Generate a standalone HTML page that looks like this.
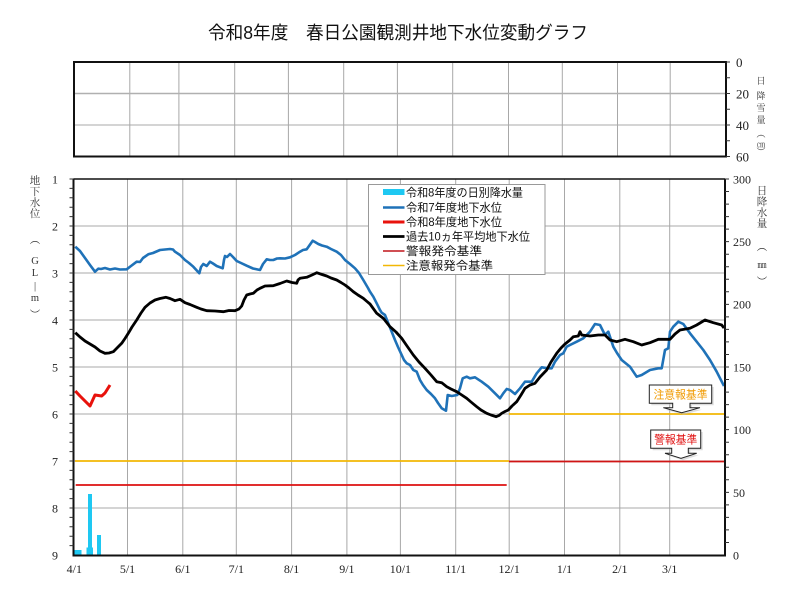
<!DOCTYPE html>
<html><head><meta charset="utf-8"><style>
html,body{margin:0;padding:0;background:#fff;}
svg{display:block;}
.num{font-family:"Liberation Serif","Noto Serif CJK SC",serif;font-size:12px;fill:#222;}
.ttl{font-family:"Liberation Serif","Noto Serif CJK SC",serif;font-size:10.5px;fill:#333;}
.lg{font-family:"Liberation Sans","Noto Sans CJK JP",sans-serif;font-size:11.5px;fill:#111;}
</style></head><body>
<svg width="800" height="601" viewBox="0 0 800 601" xmlns="http://www.w3.org/2000/svg">
<rect width="800" height="601" fill="#fff"/>
<!-- Title -->
<text x="398" y="39" text-anchor="middle" textLength="380" lengthAdjust="spacingAndGlyphs" style="font-family:'Liberation Sans','Noto Sans CJK JP',sans-serif;font-size:18px;fill:#111;">令和8年度　春日公園観測井地下水位変動グラフ</text>

<!-- Top snow box -->
<g stroke="#a8a8a8" stroke-width="1" fill="none">
<path d="M129.8 62V156.5M178.9 62V156.5M234.7 62V156.5M288.4 62V156.5M343.7 62V156.5M397.4 62V156.5M452.7 62V156.5M508.5 62V156.5M562.3 62V156.5M617.5 62V156.5M670.2 62V156.5"/>
<path d="M74 93.5H726" stroke-width="1.6" stroke="#b0b0b0"/>
<path d="M74 125H726"/>
</g>
<rect x="74" y="62" width="652" height="94.5" fill="none" stroke="#111" stroke-width="2"/>
<path d="M726 77.75h4M726 93.5h4M726 109.25h4M726 125h4M726 140.75h4M726 62h4M726 156.5h4" stroke="#333" stroke-width="1"/>
<g class="num" style="font-size:13px">
<text x="736" y="67">0</text>
<text x="736" y="98.5">20</text>
<text x="736" y="130">40</text>
<text x="736" y="161.5">60</text>
</g>
<g class="ttl" style="font-size:9px" text-anchor="middle">
<text x="761" y="84">日</text>
<text x="761" y="99">降</text>
<text x="761" y="111">雪</text>
<text x="761" y="123">量</text>
<text x="761" y="137">︵</text>
<text x="761" y="147" style="font-size:8px">㎝</text>
<text x="761" y="155">︶</text>
</g>

<!-- Main grid -->
<g stroke="#a8a8a8" stroke-width="1" fill="none">
<path d="M127.5 179V555M182.8 179V555M236.3 179V555M291.6 179V555M346.9 179V555M400.4 179V555M455.7 179V555M509.2 179V555M564.5 179V555M619.8 179V555M669.7 179V555"/>
<path d="M73.5 226H725M73.5 273H725M73.5 320H725M73.5 367H725M73.5 414H725M73.5 461H725M73.5 508H725"/>
</g>

<!-- Rain bars -->
<g fill="#1ec8f2">
<rect x="74" y="550" width="7.5" height="6"/>
<rect x="86.5" y="547.5" width="6.5" height="8.5"/>
<rect x="88" y="494" width="4" height="62"/>
<rect x="97" y="535" width="4" height="21"/>
</g>

<!-- Reference lines -->
<path d="M75 461H509" stroke="#f2b705" stroke-width="1.8"/>
<path d="M75.7 485H506.7" stroke="#dd1111" stroke-width="1.8"/>
<path d="M509 414H725" stroke="#f2b705" stroke-width="1.8"/>
<path d="M509 461.5H725" stroke="#d01515" stroke-width="1.8"/>

<!-- Blue R7 -->
<polyline fill="none" stroke="#1f72b8" stroke-width="2.6" stroke-linejoin="round" points="75.3,246.7 80,251 85,258 90,265 95,271.7 98.3,268.7 101,269 105,268 110,269.5 115,268.5 120,269.5 126.7,269.3 131,266 136.7,261.7 140,262 143,258 148.3,254.3 153,253 160,250 165,249.5 170,249 173,249.5 175,251.7 180,255 185,260 189,263 193.3,266.7 199.3,273.3 201,267 203.3,264 206.7,266 210,261.7 213,263.5 216.7,266 222.7,268.3 224,260 225,256 227,257 230,254 233,257 236.7,261 241,263 246.7,265.7 253,268.5 260,270 263,264 266.7,259.3 270,260 273.3,260 277,258.5 280,258.3 285,258.5 290,257.3 295,255 300,251.7 303,250 306.7,249.3 309,246 312.7,240.7 315,242 318.3,244 322,245.5 326.7,246.7 331,249 336.7,251.7 341,255 345,260 350,264 355,268.3 359,273 363.3,280 368,288 370,291.7 373.3,296.7 376.7,303.3 380,310 381.7,312.7 385,315 388.3,323.3 391,330 395,340 398,347 401.7,355 404,360 406.7,363.3 410,365 413.3,370 416.7,371.7 420,380 423,385 426.7,390 431,394 435,398.3 438,403 441.7,408.3 446,410.7 447.7,395 451.7,396 457.3,395 460,388.3 462.7,378.3 466.7,376.7 470,378.3 475,377.3 481.7,381.7 488.3,386.7 495,393.3 500,398.3 503.3,393.3 506.7,389 510,390 515,394 520,388.3 525,381.7 531.7,381.7 536.7,373.3 541.7,367.3 548.3,368.3 551.7,368.3 555,361.7 560,355 563.3,353.3 566.7,346.7 570,345 576.7,341.7 583.3,338.3 590,331.7 595,324 600,325 605,335 608.3,331.7 613.3,346.7 617,353 621.7,360 630,366.7 636.7,376.7 641.7,375 650,370 658.3,368.3 661.7,368.3 665,350 668.3,348.3 670,331.7 673.3,326.7 678.3,321.7 683.3,324 690,333.3 696.7,341.7 703.3,350 710,360 716.7,371.7 724,386"/>

<!-- Black 10yr avg -->
<polyline fill="none" stroke="#000" stroke-width="2.8" stroke-linejoin="round" points="75.3,332.7 80,337 85,341 90,344 95,347 100,351 105,353.3 109,353 113.3,351.7 117,348 121.7,343.3 125,338.5 128.3,333.3 132,327 136.7,320 141,313 145,307.3 150,303 155,300 160,298.5 166,297.3 170,298.5 175,300.7 180,299.3 185,302.7 190,304.5 196.7,307.3 201,309 206.7,310.7 215,311 223.3,311.7 229,310.5 235,310.7 239,309 241.7,306 244,300 246.7,295 250,294 253.3,293.3 257,290 260,288.3 265,286 273.3,285.7 280,283.5 286.7,281 292,282.5 296.7,283.3 298,280 300,278.3 306.7,277.3 312,275 316.7,272.7 322,274.5 326.7,276 331,278 336.7,280 341,282.5 345,285 349,288 353.3,291.7 358,295 363.3,298.3 367,301.5 370,304 376.7,313.3 383.3,318.3 390,326.7 396,332 401.7,338.3 407,346 413.3,355 419,362 425,368.3 431,375 436.7,381.7 441.7,382.7 446.7,386.7 451,389 456.7,391.7 461,394.5 466.7,398.3 471,402 476.7,406.7 481,410 486.7,413.3 491,415 496,416.7 499,415.5 501.7,413.3 505,411.5 508.3,410 512,406 516.7,401.7 521,395 525,388.3 530,385 535,383.3 540,377 546.7,370 551,362 556.7,353.3 561,348 565,344 570,340 573.3,336.7 578.3,336 580,331.7 581.7,335 590,336 598.3,335 605,335 610,340 616.7,341.7 625,339.3 633.3,341.7 641.7,345 650,342.7 658.3,339.3 670,339.3 675,334 680,330 690,328.3 696.7,325 705,320 713.3,322.7 721.7,325 724,328"/>

<!-- Red R8 -->
<polyline fill="none" stroke="#e8120c" stroke-width="3" stroke-linejoin="round" points="75.3,391 80,396 85,401 90,406 95,395 101.7,396 105,393 110,385"/>

<!-- Main frame -->
<path d="M73.5 179H725" stroke="#111" stroke-width="1.5"/>
<path d="M73.5 179V556M725 179V556M72.5 555.5H726" stroke="#111" stroke-width="2" fill="none"/>

<!-- Left ticks -->
<path stroke="#333" stroke-width="1" d="M69.5 179h4M69.5 188.4h4M69.5 197.8h4M69.5 207.2h4M69.5 216.6h4M69.5 226h4M69.5 235.4h4M69.5 244.8h4M69.5 254.2h4M69.5 263.6h4M69.5 273h4M69.5 282.4h4M69.5 291.8h4M69.5 301.2h4M69.5 310.6h4M69.5 320h4M69.5 329.4h4M69.5 338.8h4M69.5 348.2h4M69.5 357.6h4M69.5 367h4M69.5 376.4h4M69.5 385.8h4M69.5 395.2h4M69.5 404.6h4M69.5 414h4M69.5 423.4h4M69.5 432.8h4M69.5 442.2h4M69.5 451.6h4M69.5 461h4M69.5 470.4h4M69.5 479.8h4M69.5 489.2h4M69.5 498.6h4M69.5 508h4M69.5 517.4h4M69.5 526.8h4M69.5 536.2h4M69.5 545.6h4"/>
<!-- Right ticks -->
<path stroke="#333" stroke-width="1" d="M725 542.47h4M725 529.93h4M725 517.4h4M725 504.87h4M725 492.33h4M725 479.8h4M725 467.27h4M725 454.73h4M725 442.2h4M725 429.67h4M725 417.13h4M725 404.6h4M725 392.07h4M725 379.53h4M725 367h4M725 354.47h4M725 341.93h4M725 329.4h4M725 316.87h4M725 304.33h4M725 291.8h4M725 279.27h4M725 266.73h4M725 254.2h4M725 241.67h4M725 229.13h4M725 216.6h4M725 204.07h4M725 191.53h4M725 179h4"/>

<!-- Left labels -->
<g class="num" text-anchor="middle">
<text x="55" y="183.5">1</text>
<text x="55" y="230.5">2</text>
<text x="55" y="277.5">3</text>
<text x="55" y="324.5">4</text>
<text x="55" y="371.5">5</text>
<text x="55" y="418.5">6</text>
<text x="55" y="465.5">7</text>
<text x="55" y="512.5">8</text>
<text x="55" y="559.5">9</text>
</g>
<!-- Right labels -->
<g class="num">
<text x="733" y="183.5">300</text>
<text x="733" y="246">250</text>
<text x="733" y="308.5">200</text>
<text x="733" y="371.5">150</text>
<text x="733" y="434">100</text>
<text x="733" y="497">50</text>
<text x="733" y="559.5">0</text>
</g>
<!-- X labels -->
<g class="num" text-anchor="middle">
<text x="74.3" y="573">4/1</text>
<text x="127.5" y="573">5/1</text>
<text x="182.8" y="573">6/1</text>
<text x="236.3" y="573">7/1</text>
<text x="291.6" y="573">8/1</text>
<text x="346.9" y="573">9/1</text>
<text x="400.4" y="573">10/1</text>
<text x="455.7" y="573">11/1</text>
<text x="509.2" y="573">12/1</text>
<text x="564.5" y="573">1/1</text>
<text x="619.8" y="573">2/1</text>
<text x="669.7" y="573">3/1</text>
</g>

<!-- Left axis title -->
<g class="ttl" text-anchor="middle">
<text x="35" y="184">地</text>
<text x="35" y="195">下</text>
<text x="35" y="206">水</text>
<text x="35" y="217">位</text>
<text x="35" y="243">︵</text>
<text x="35" y="264">G</text>
<text x="35" y="276">L</text>
<text x="35" y="289">|</text>
<text x="35" y="301">m</text>
<text x="35" y="318">︶</text>
</g>
<!-- Right axis title -->
<g class="ttl" text-anchor="middle">
<text x="762" y="194">日</text>
<text x="762" y="205">降</text>
<text x="762" y="216">水</text>
<text x="762" y="227">量</text>
<text x="762" y="250">︵</text>
<text x="762" y="268" style="font-size:9px">㎜</text>
<text x="762" y="285">︶</text>
</g>

<!-- Legend -->
<rect x="368.5" y="184.5" width="176.5" height="90" fill="#fff" stroke="#999" stroke-width="1"/>
<rect x="383" y="189" width="21.5" height="6" fill="#1ec8f2"/>
<path d="M383 207.5H404.5" stroke="#1f72b8" stroke-width="2.6"/>
<path d="M383 222H404.5" stroke="#e8120c" stroke-width="3"/>
<path d="M383 236.5H404.5" stroke="#000" stroke-width="2.8"/>
<path d="M383 251H404.5" stroke="#c0151a" stroke-width="1.6"/>
<path d="M383 265.5H404.5" stroke="#f2b705" stroke-width="1.6"/>
<g class="lg">
<text x="406" y="196.5" textLength="117" lengthAdjust="spacingAndGlyphs">令和8年度の日別降水量</text>
<text x="406" y="211.5" textLength="96" lengthAdjust="spacingAndGlyphs">令和7年度地下水位</text>
<text x="406" y="226" textLength="96" lengthAdjust="spacingAndGlyphs">令和8年度地下水位</text>
<text x="406" y="240.5" textLength="124" lengthAdjust="spacingAndGlyphs">過去10ヵ年平均地下水位</text>
<text x="406" y="255" textLength="76" lengthAdjust="spacingAndGlyphs">警報発令基準</text>
<text x="406" y="269.5" textLength="87" lengthAdjust="spacingAndGlyphs">注意報発令基準</text>
</g>

<!-- Callouts -->
<path d="M651.3 387H713.7V405.3H692V409.7H702L683.7 414.7L665.3 409.7H674.7V405.3H651.3Z" fill="#bbb" opacity="0.5"/>
<path d="M649.3 385H711.7V403.3H690V407.7H700L681.7 412.7L663.3 407.7H672.7V403.3H649.3Z" fill="#fff" stroke="#222" stroke-width="1"/>
<text x="680.5" y="398.5" text-anchor="middle" textLength="54" lengthAdjust="spacingAndGlyphs" style="font-family:'Liberation Sans','Noto Sans CJK JP',sans-serif;font-size:11.5px;fill:#f09a00;">注意報基準</text>
<path d="M652.7 432H702.7V450.3H690.3V455.3H698.7L683 460.3L667 455.3H673.7V450.3H652.7Z" fill="#bbb" opacity="0.5"/>
<path d="M650.7 430H700.7V448.3H688.3V453.3H696.7L681 458.3L665 453.3H671.7V448.3H650.7Z" fill="#fff" stroke="#222" stroke-width="1"/>
<text x="675.7" y="443.5" text-anchor="middle" textLength="43" lengthAdjust="spacingAndGlyphs" style="font-family:'Liberation Sans','Noto Sans CJK JP',sans-serif;font-size:11.5px;fill:#e01010;">警報基準</text>
</svg>
</body></html>
